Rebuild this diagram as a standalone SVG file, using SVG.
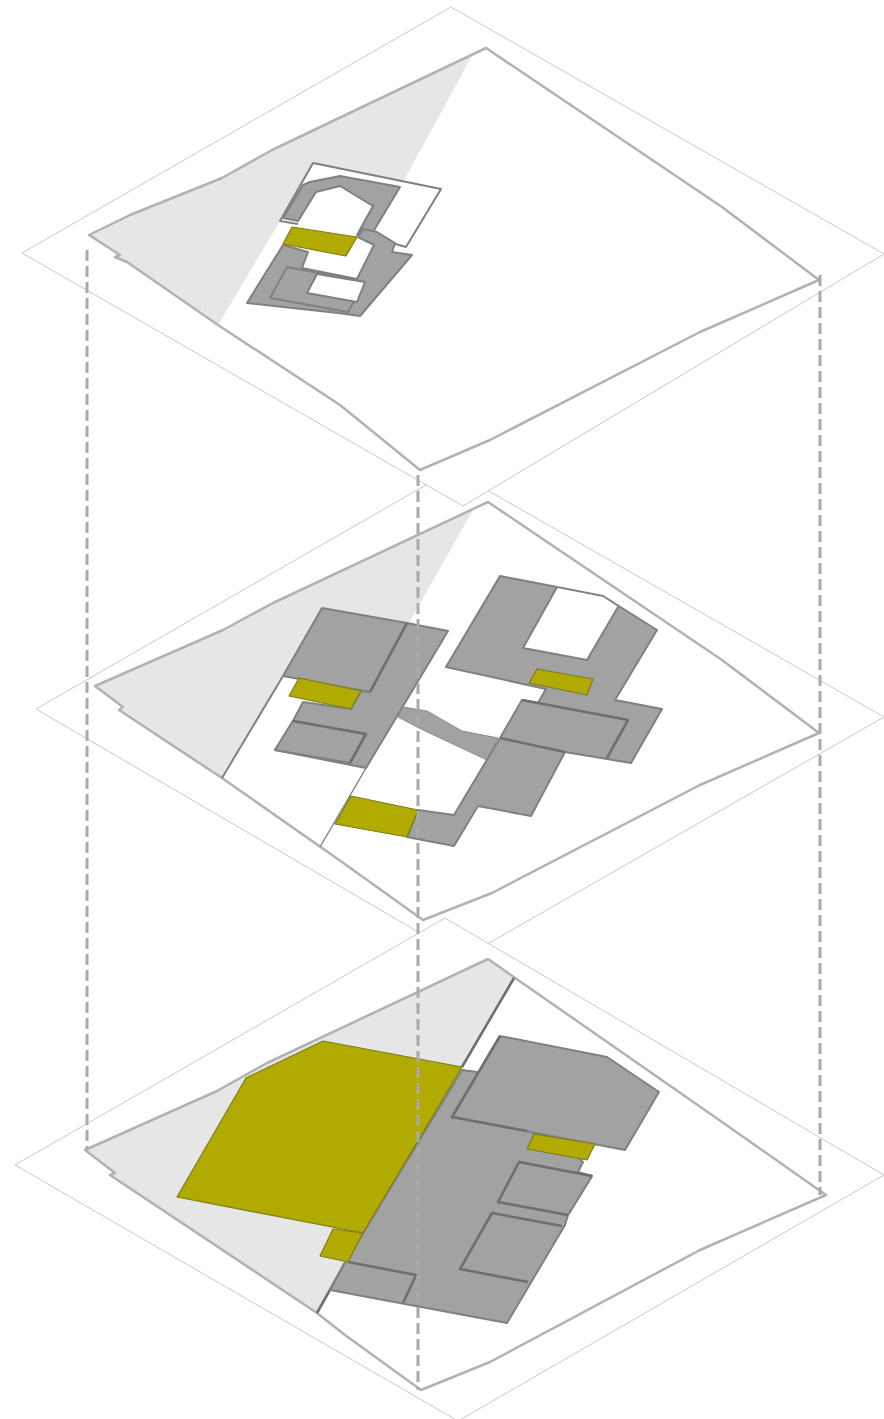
<svg xmlns="http://www.w3.org/2000/svg" width="884" height="1419" viewBox="0 0 884 1419">
<style>
.plane{fill:#fff;stroke:#c8c8c8;stroke-width:1}
.site{fill:none;stroke:#b2b2b2;stroke-width:2.5;stroke-linejoin:round}
.shade{fill:#e6e6e6;stroke:none}
.g{fill:#a2a2a2;stroke:#808080;stroke-width:2;stroke-linejoin:round}
.thin{fill:#a2a2a2;stroke:#8c8c8c;stroke-width:1;stroke-linejoin:round}
.y{fill:#b1aa00;stroke:#7f7b18;stroke-width:1.2;stroke-linejoin:round}
.wf{fill:#fff;stroke:none}
.l{fill:none;stroke:#6f6f6f;stroke-width:2.6;stroke-linejoin:round}
.s{fill:none;stroke:#808080;stroke-width:2;stroke-linejoin:round}
.dash{fill:none;stroke:#aaa;stroke-width:3;stroke-dasharray:11 5}
</style>
<rect width="884" height="1419" fill="#fff"/>
<g id="layer-2">
<polygon class="plane" points="452,470 884,717 463,958 36,709"/>
<polygon class="shade" points="95,686 223,630 273,603 488,502 473,510 409,623 283,676 222,778 119,710 123,707"/>
<polygon class="site" points="488,502 722,660 819,733 700,785 492,893 423,920 342,862 222,778 119,710 123,707 95,686 223,630 273,603"/>
<path class="s" d="M222,778L283,676"/>
<path class="s" style="stroke-width:1.4" d="M320,847L366,768"/>
<polygon class="g" points="407,623 448,631 366,768 275,750 293,721 303,702 351,709 361,691 370,692"/>
<polygon class="g" points="322,608 407,623 370,692 283,676"/>
<polygon class="g" points="293,721 366,734 350,763 275,750"/>
<path class="l" d="M407,623L370,692M293,721L366,734L350,763"/>
<polygon class="y" points="299,678 361,691 351,709 289,696"/>
<polygon class="thin" points="403,707 427,711 462,731 498,738 487,760 423,730 398,717"/>
<polygon class="g" points="500,576 557,587 603,596 657,630 615,700 662,709 631,763 565,752 531,816 478,806 454,846 407,837 418,810 454,815 500,738 522,700 538,703 546,689 446,667"/>
<polygon class="wf" points="557,588 603,597 618,607 587,660 523,648"/>
<path class="s" d="M557,587L523,648L587,660L618,607"/>
<path class="l" d="M522,700L628,720L607,758M500,738L565,752"/>
<polygon class="y" points="537,669 593,679 587,695 529,683"/>
<polygon class="y" points="351,796 418,810 407,837 335,824"/>
</g>
<g id="layer-3">
<polygon class="plane" points="445,918 884,1175 458,1421 15,1165"/>
<polygon class="shade" points="85,1150 217,1091 267,1063 488,959 514,978 317,1313 110,1175 115,1173"/>
<polygon class="site" points="488,959 722,1122 826,1195 700,1250 490,1362 421,1390 345,1335 317,1313 110,1175 115,1173 85,1150 217,1091 267,1063"/>
<path class="l" d="M514,978L462,1067M317,1313L345,1263"/>
<polygon class="g" points="462,1070 477,1072 583,1162 578,1172 592,1176 568,1215 565,1225 507,1323 330,1290 345,1263"/>
<polygon class="g" points="500,1036 607,1057 659,1092 625,1150 452,1117"/>
<polygon class="g" style="stroke:none" points="519,1162 592,1176 568,1215 498,1202"/>
<path class="s" d="M519,1162L592,1176L568,1215"/>
<path class="l" d="M500,1036L452,1117L527,1131M592,1176L519,1162L498,1202L568,1215M562,1226L492,1213L460,1269L528,1282M348,1262L416,1275L403,1303"/>
<polygon class="y" points="534,1134 595,1144 587,1160 527,1149"/>
<polygon class="y" points="333,1229 363,1233 348,1262 320,1256"/>
<polygon class="y" points="323,1041 462,1067 363,1233 177,1197 246,1078"/>
</g>
<g id="layer-1">
<polygon class="plane" points="451,7 884,254 463,506 22,253"/>
<polygon class="shade" points="89,235 130,215 222,178 272,150 473,54 402,184 280,221 218,325 127,262 115,257 120,255"/>
<polygon class="site" points="486,48 722,207 819,280 700,332 490,440 420,470 340,405 218,325 127,262 115,257 120,255 89,235 130,215 222,178 272,150"/>
<polygon class="wf" points="313,163 441,189 406,247 357,238 292,227 280,221"/>
<path class="s" d="M298,224L280,221L313,163L441,189L406,247L392,243"/>
<polygon class="g" points="283,218 303,185 310,182 340,176 400,187 373,232 363,229 357,235 373,206 340,186 316,192 298,221"/>
<polygon class="g" points="247,303 283,245 308,252 302,268 357,279 374,245 358,237 363,229 377,232 395,243 392,252 412,255 360,316 338,313"/>
<polygon class="g" points="287,267 365,282 348,312 270,298"/>
<polygon class="wf" points="317,274 365,282 357,302 307,293"/>
<path class="s" d="M317,274L365,282L357,302L307,293Z"/>
<polygon class="y" points="292,227 357,237 346,256 283,244"/>
</g>
<g id="connectors">
<path class="dash" d="M87,250V1150"/>
<path class="dash" d="M418,475V1390"/>
<path class="dash" d="M820,275V1195"/>
</g>
</svg>
